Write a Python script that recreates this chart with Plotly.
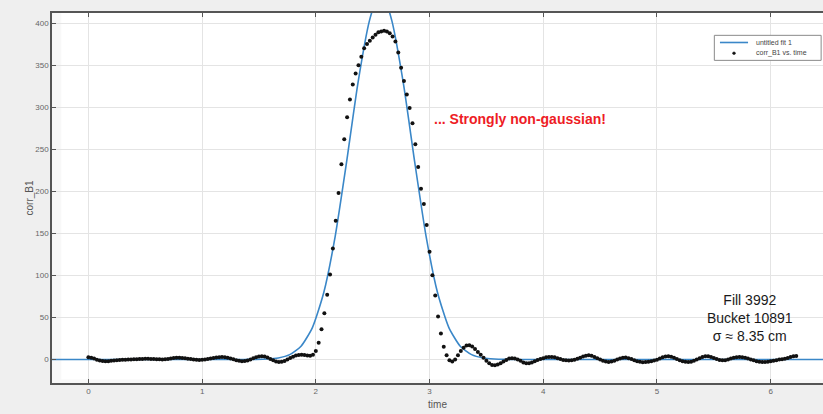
import plotly.graph_objects as go

# measured samples: corr_B1 vs time (dt = 0.025, starting at t = 0)
t_start = 0.0
t_step = 0.025
corr_b1 = [
    # 0.000 - 0.975
    2.5, 2.0, 1.0, -0.3, -1.3, -1.9, -2.1, -2.0, -1.6, -1.2,
    -0.9, -0.6, -0.4, -0.3, -0.1, 0.0, 0.1, 0.3, 0.4, 0.6,
    0.7, 0.7, 0.6, 0.4, 0.3, 0.1, 0.0, 0.2, 0.6, 1.1,
    1.6, 1.9, 2.0, 1.8, 1.4, 0.9, 0.4, 0.0, -0.4, -0.5,
    # 1.000 - 1.975
    -0.4, -0.1, 0.4, 1.0, 1.6, 2.2, 2.7, 2.9, 2.7, 2.1,
    1.2, 0.2, -0.8, -1.6, -2.0, -1.8, -1.1, 0.0, 1.3, 2.6,
    3.6, 3.9, 3.4, 2.2, 0.6, -1.0, -2.3, -3.0, -2.8, -1.8,
    -0.2, 1.6, 3.3, 4.6, 5.4, 5.6, 5.2, 4.6, 4.3, 5.5,
    # 2.000 - 2.975
    10, 20, 36, 55, 77, 101, 132, 165, 198, 232,
    262, 288, 309, 327, 340, 350, 360, 370, 375, 379,
    383, 386, 389, 390, 391, 390, 388, 384, 378, 365,
    347, 331, 315, 299, 281, 256, 229, 203, 185, 160,
    # 3.000 - 3.975
    128, 100, 76, 51, 31, 15, 5, -1, -2.5, 0,
    5, 10, 14, 16.5, 17, 15.5, 12.5, 9, 5.5, 2,
    -1.5, -4.5, -6.5, -7, -6, -4.5, -2.5, -0.5, 1, 1.5,
    1, 0, -1.5, -3.5, -4.5, -4.5, -3.5, -2, -0.5, 0.5,
    # 4.000 - 4.975
    1.5, 2.5, 3, 3, 2.5, 1.5, 0.5, -0.5, -1, -1.2,
    -1, -0.3, 0.8, 2, 3.5, 4.5, 5, 4.5, 3, 1.5,
    0, -1.5, -2.5, -3, -2.5, -1.5, -0.2, 1, 2, 2.2,
    1.5, 0.5, -0.8, -2, -2.8, -3.2, -3, -2.6, -2, -1.2,
    # 5.000 - 5.975
    -0.3, 1, 2.5, 3.5, 3.8, 3.2, 2, 0.5, -1, -2.2,
    -2.8, -3, -2.6, -1.5, 0, 1.5, 3, 3.8, 3.8, 3,
    1.8, 0.5, -0.5, -1, -0.8, 0, 1, 2, 2.6, 2.8,
    2.6, 2, 1, 0, -1, -2, -2.6, -3, -3, -2.8,
    # 6.000 - 6.225
    -2.2, -1.5, -0.8, -0.2, 0.2, 0.8, 1.8, 3, 3.8, 4.2,
]
time = [round(t_start + i * t_step, 3) for i in range(len(corr_b1))]

# fitted curve ("untitled fit 1")
fit_time = [-0.32, 1.37, 1.47, 1.57, 1.67, 1.77, 1.87, 1.97, 2.07, 2.17, 2.27,
            2.37, 2.47, 2.52, 2.57, 2.62, 2.67, 2.77, 2.87, 2.97, 3.07, 3.17,
            3.27, 3.37, 3.47, 3.57, 3.67, 3.77, 6.46]
fit_vals = [0, 0.03, 0.12, 0.51, 1.82, 5.73, 15.8, 37.9, 79.6, 146.1, 234.3,
            328.3, 402.0, 422.8, 430.0, 422.8, 402.0, 328.3, 234.3, 146.1, 79.6, 37.9,
            15.8, 5.73, 1.82, 0.51, 0.12, 0.03, 0]

x_ticks = [0, 1, 2, 3, 4, 5, 6]
y_ticks = [0, 50, 100, 150, 200, 250, 300, 350, 400]
legend_names = ["untitled fit 1", "corr_B1 vs. time"]

fit_color = "#3a87c8"
dot_color = "#111111"

fig = go.Figure()

fig.add_trace(go.Scatter(
    x=fit_time, y=fit_vals, mode="lines", name=legend_names[0],
    line=dict(color=fit_color, width=1.6, shape="spline", smoothing=0.6),
    showlegend=False,
))
fig.add_trace(go.Scatter(
    x=time, y=corr_b1, mode="markers", name=legend_names[1],
    marker=dict(color=dot_color, size=4),
    showlegend=False,
))

fig.add_annotation(
    x=3.02, y=286, xref="x", yref="y", xanchor="left", yanchor="middle",
    text="<b>... Strongly non-gaussian!</b>", showarrow=False,
    font=dict(family="Liberation Sans", size=14, color="#ee1c25"),
)
fig.add_annotation(
    x=5.82, y=49, xref="x", yref="y", xanchor="center", yanchor="middle",
    text="Fill 3992<br>Bucket 10891<br>σ ≈ 8.35 cm", showarrow=False, align="center",
    font=dict(family="Liberation Sans", size=14, color="#1a1a1a"),
)

W, H = 823, 414
def px(x):
    return x / W
def py(y):
    return 1 - y / H

# lighter strips at the left and bottom edge of the screenshot
fig.add_shape(type="rect", xref="paper", yref="paper", x0=0, x1=px(10), y0=0, y1=1,
              fillcolor="#f8f8f8", line_width=0, layer="below")
fig.add_shape(type="rect", xref="paper", yref="paper", x0=0, x1=1, y0=0, y1=py(410),
              fillcolor="#f8f8f8", line_width=0, layer="below")

# small MATLAB-style legend box (top right)
fig.add_shape(type="rect", xref="paper", yref="paper",
              x0=px(707), x1=px(821), y0=py(53), y1=py(25),
              fillcolor="white", line=dict(color="#8a8a8a", width=1), layer="above")
fig.add_shape(type="line", xref="paper", yref="paper",
              x0=px(713), x1=px(743), y0=py(33), y1=py(33),
              line=dict(color=fit_color, width=1.6), layer="above")
fig.add_shape(type="circle", xref="paper", yref="paper",
              x0=px(726.5), x1=px(729.5), y0=py(46.5), y1=py(43.5),
              fillcolor=dot_color, line=dict(color=dot_color, width=0.5), layer="above")
for i, name in enumerate(legend_names):
    fig.add_annotation(
        x=px(749), y=py(33 + 12 * i), xref="paper", yref="paper",
        xanchor="left", yanchor="middle", text=name, showarrow=False,
        font=dict(family="Liberation Sans", size=7, color="#444444"),
    )

axis_common = dict(
    showgrid=True, gridcolor="#e4e4e4", gridwidth=1,
    showline=True, linecolor="#555555", linewidth=1.5,
    ticks="inside", ticklen=4, tickcolor="#555555",
    tickfont=dict(family="Liberation Sans", size=8, color="#666666"),
    zeroline=False, automargin=False,
)

fig.update_xaxes(
    range=[-0.32, 6.46], tickvals=x_ticks, mirror="ticks",
    title=dict(text="time", font=dict(family="Liberation Sans", size=10, color="#555555"),
               standoff=6),
    **axis_common,
)
fig.update_yaxes(
    range=[-28, 412], tickvals=y_ticks,
    title=dict(text="corr_B1", font=dict(family="Liberation Sans", size=10, color="#555555"),
               standoff=0),
    **axis_common,
)

fig.update_layout(
    width=W, height=H,
    margin=dict(l=52, r=0, t=13, b=31),
    paper_bgcolor="#efefef", plot_bgcolor="white",
    showlegend=False,
)

# no page margin / scrollbars so the figure fills the 823x414 window exactly
fig.write_html(
    "out.html",
    config={"displayModeBar": False},
    post_script="document.body.style.margin='0';document.body.style.overflow='hidden';",
)
